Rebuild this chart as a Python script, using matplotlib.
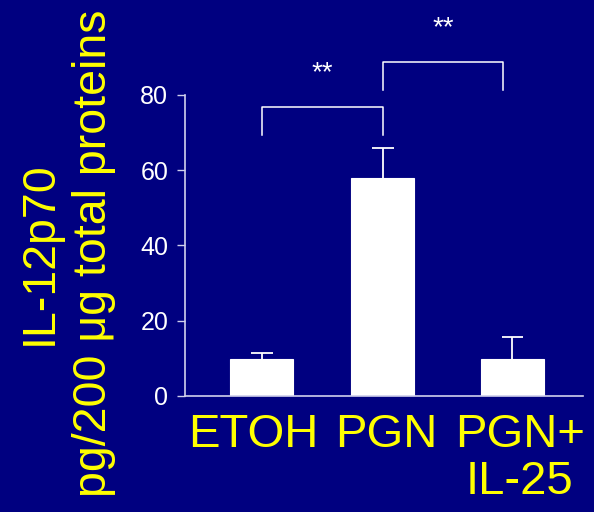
import numpy as np
import matplotlib.pyplot as plt

groups = ['ETOH', 'PGN', 'PGN+\nIL-25']
il12 = np.array([9.8, 57.8, 9.8])
sem = np.array([1.7, 8.2, 6.0])

# significance brackets: (left group, right group, star label)
brackets = [(0, 1, '**'), (1, 2, '**')]

navy = '#000080'
axcol = '#d0d0ec'
yellow = '#ffff00'

plt.rcParams['font.family'] = ['Liberation Sans', 'DejaVu Sans']

fig = plt.figure(figsize=(5.94, 5.12), dpi=100, facecolor=navy)
ax = fig.add_axes([0.3114, 0.2266, 0.67, 0.588], facecolor=navy)

xpos = np.array([0, 1, 2.07])
ax.bar(xpos, il12, width=0.52, color='white', edgecolor='white', linewidth=0.8, zorder=2)
# upper error bars only
ax.vlines(xpos, il12, il12 + sem, color='white', lw=1.3, zorder=3)
ax.hlines(il12 + sem, xpos - 0.09, xpos + 0.09, color='white', lw=1.3, zorder=3)

#brackets drawn in data coords
bh = [(69.4, 76.8), (81.3, 88.8)]
for (i, j, lab), (lo, hi) in zip(brackets, bh):
    xl, xr = xpos[i], xpos[j] - (0.08 if j == 2 else 0)
    ax.plot([xl, xl, xr, xr], [lo, hi, hi, lo], color='white', lw=1.1,
            clip_on=False, zorder=3)
    ax.text((xl + xr) / 2, hi + 9, lab, color='white', fontsize=20,
            ha='center', va='center', clip_on=False)

ax.set_xlim(-0.636, 2.653)
ax.set_ylim(0, 80)
ax.set_yticks([0, 20, 40, 60, 80])
ax.tick_params(axis='y', colors='white', labelsize=18, length=6, width=1,
               color=axcol, pad=6)
ax.set_xticks([-0.07, 1.03, 2.13])
ax.set_xticklabels(groups, color=yellow, fontsize=34, linespacing=1.1)
ax.tick_params(axis='x', length=0, pad=12)

for s in ['top', 'right']:
    ax.spines[s].set_visible(False)
for s in ['left', 'bottom']:
    ax.spines[s].set_color(axcol)
    ax.spines[s].set_linewidth(1.2)

fig.text(0.113, 0.505, 'IL-12p70\npg/200 \u03bcg total proteins', rotation=90,
         color=yellow, fontsize=33.5, ha='center', va='center',
         multialignment='center', linespacing=1.3)

fig.savefig('out.png', facecolor=navy)
